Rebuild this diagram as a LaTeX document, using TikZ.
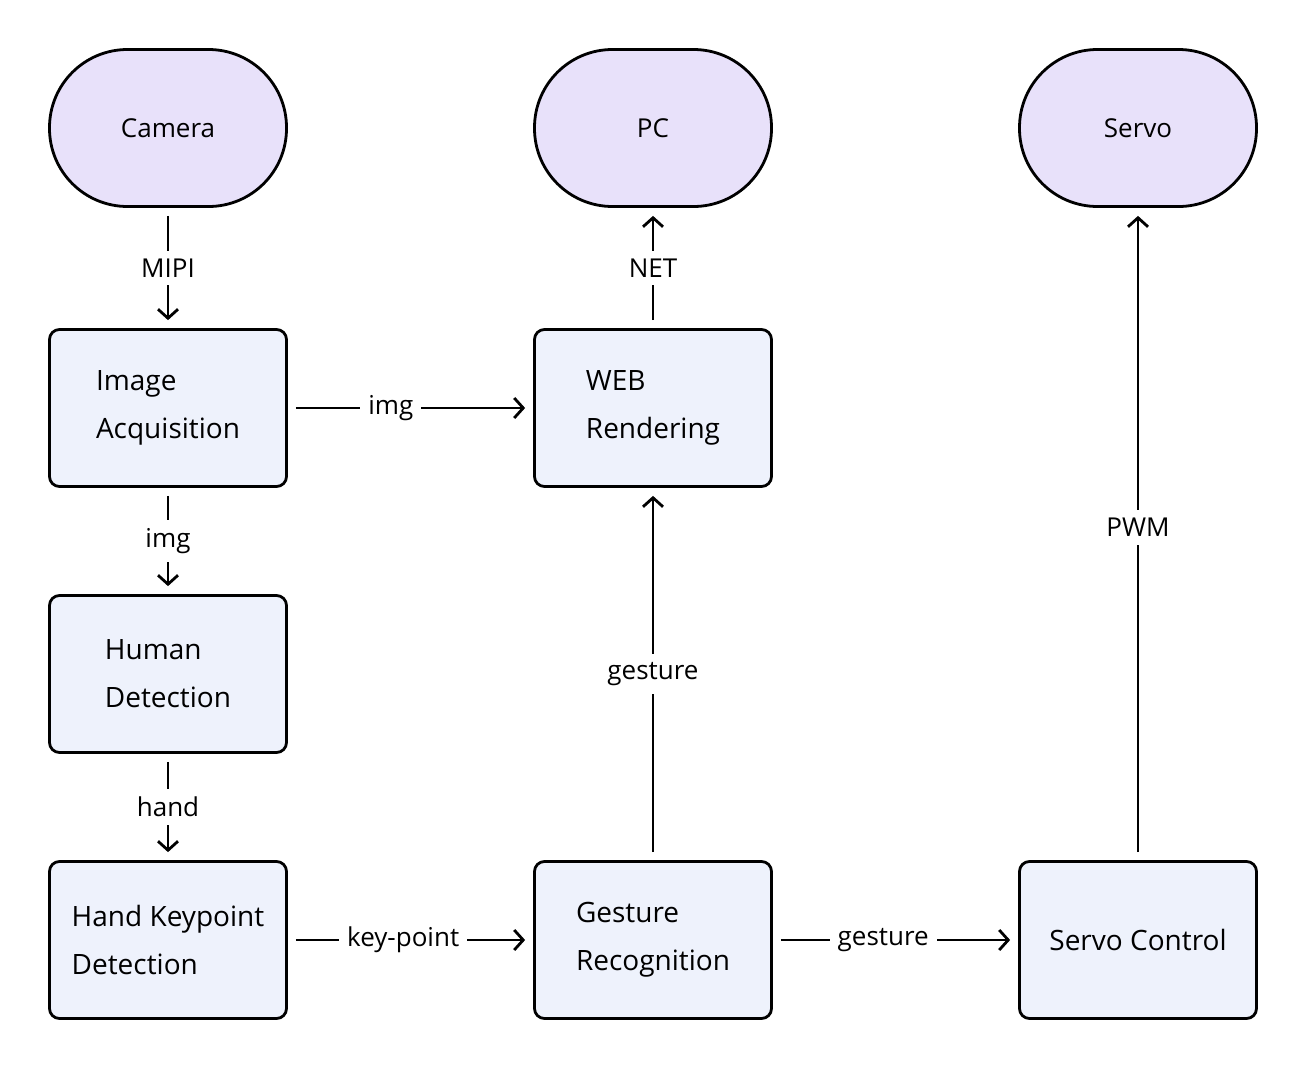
\documentclass[tikz,border=0pt]{standalone}
\usepackage{fontspec}
\setmainfont{Open Sans}
\usetikzlibrary{arrows.meta}
\begin{document}
\begin{tikzpicture}[x=1pt,y=-1pt,
  term/.style={draw=black,line width=2.8pt,fill=termfill,rounded corners=78pt,minimum width=237pt,minimum height=157pt,font=\fontsize{26}{32}\selectfont},
  proc/.style={draw=black,line width=2.8pt,fill=procfill,rounded corners=10pt,minimum width=237pt,minimum height=157pt,align=left,font=\fontsize{28}{48}\selectfont},
  conn/.style={line width=2.8pt,-{Straight Barb[length=9pt,width=20pt,line width=2.8pt]},shorten <=8pt,shorten >=8pt},
  lbl/.style={fill=white,inner sep=8pt,font=\fontsize{26}{32}\selectfont}]
\definecolor{termfill}{HTML}{E8E1FA}
\definecolor{procfill}{HTML}{EEF2FC}
\useasboundingbox[fill=white] (0,0) rectangle (1308,1068);
\node[term] (cam) at (168,128) {Camera};
\node[term] (pc) at (653,128) {PC};
\node[term] (servo) at (1138,128) {Servo};
\node[proc] (img) at (168,408) {Image\\Acquisition};
\node[proc] (web) at (653,408) {WEB\\Rendering};
\node[proc] (hum) at (168,674) {Human\\Detection};
\node[proc] (hand) at (168,940) {Hand Keypoint\\Detection};
\node[proc] (ges) at (653,940) {Gesture\\Recognition};
\node[proc] (sc) at (1138,940) {Servo Control};
\draw[conn] (cam) -- node[lbl]{MIPI} (img);
\draw[conn] (img) -- node[lbl,pos=0.42]{img} (web);
\draw[conn] (img) -- node[lbl]{img} (hum);
\draw[conn] (hum) -- node[lbl]{hand} (hand);
\draw[conn] (hand) -- node[lbl,pos=0.47]{key-point} (ges);
\draw[conn] (ges) -- node[lbl,pos=0.45]{gesture} (sc);
\draw[conn] (ges) -- node[lbl]{gesture} (web);
\draw[conn] (web) -- node[lbl]{NET} (pc);
\draw[conn] (sc) -- node[lbl,pos=0.51]{PWM} (servo);
\end{tikzpicture}
\end{document}
